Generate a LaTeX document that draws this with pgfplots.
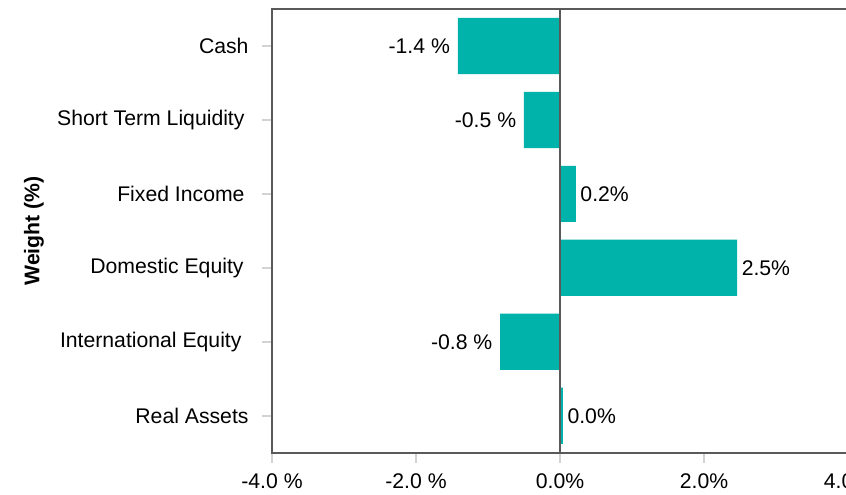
\documentclass[border=0pt]{standalone}
\usepackage{pgfplots}
\pgfplotsset{compat=1.18}
\usepackage{fontspec}
\setmainfont{Liberation Sans}
\definecolor{barteal}{HTML}{00B3AA}
\definecolor{axgray}{HTML}{595959}
\definecolor{tickgray}{HTML}{D3D3D3}
\newcommand{\fs}{\fontsize{10.6}{12.5}\selectfont}
\begin{document}
\fs
\begin{tikzpicture}
\begin{axis}[
  name=ax,
  at={(0,0)}, anchor=south west,
  scale only axis, width=288pt, height=221.85pt,
  xmin=-4, xmax=4, ymin=-0.5, ymax=5.5,
  xbar, bar width=0.76, bar shift=0pt,
  xtick={-4,-2,0,2,4},
  xticklabels={-4.0 \%, -2.0 \%, 0.0\%, 2.0\%, 4.0\%},
  ytick={0,1,2,3,4,5},
  yticklabels={Real Assets, International Equity\rule{3.5pt}{0pt}, Domestic Equity\rule{2.5pt}{0pt}, Fixed Income\rule{2pt}{0pt}, Short Term Liquidity\rule{2pt}{0pt}, Cash},
  axis line style={axgray, line width=0.8pt},
  tick style={tickgray, line width=0.8pt},
  tick align=outside, major tick length=5pt,
  xtick pos=bottom, ytick pos=left,
  ticklabel style={font=\fs, text=black},
  yticklabel style={xshift=-3pt},
  xticklabel style={yshift=-2pt},
  nodes near coords,
  point meta=explicit symbolic,
  every node near coord/.append style={font=\fs, text=black},
]
\addplot[fill=barteal, draw=none, nodes near coords style={anchor=east, xshift=-0.2pt}] coordinates {
  (-1.42,5) [-1.4 \%]
  (-0.50,4) [-0.5 \%]
  (-0.83,1) [-0.8 \%]
};
\addplot[fill=barteal, draw=none, nodes near coords style={anchor=west, xshift=-1.4pt}] coordinates {
  (0.22,3) [0.2\%]
  (2.46,2) [2.5\%]
  (0.04,0) [0.0\%]
};
\draw[axgray, line width=0.8pt] (axis cs:0,-0.5) -- (axis cs:0,5.5);
\end{axis}
\node[rotate=90, font=\fs\bfseries] at ([xshift=-119pt]ax.west) {Weight (\%)};
\pgfresetboundingbox
\useasboundingbox (-136pt,-20.65pt) rectangle (287pt,226.35pt);
\end{tikzpicture}
\end{document}
